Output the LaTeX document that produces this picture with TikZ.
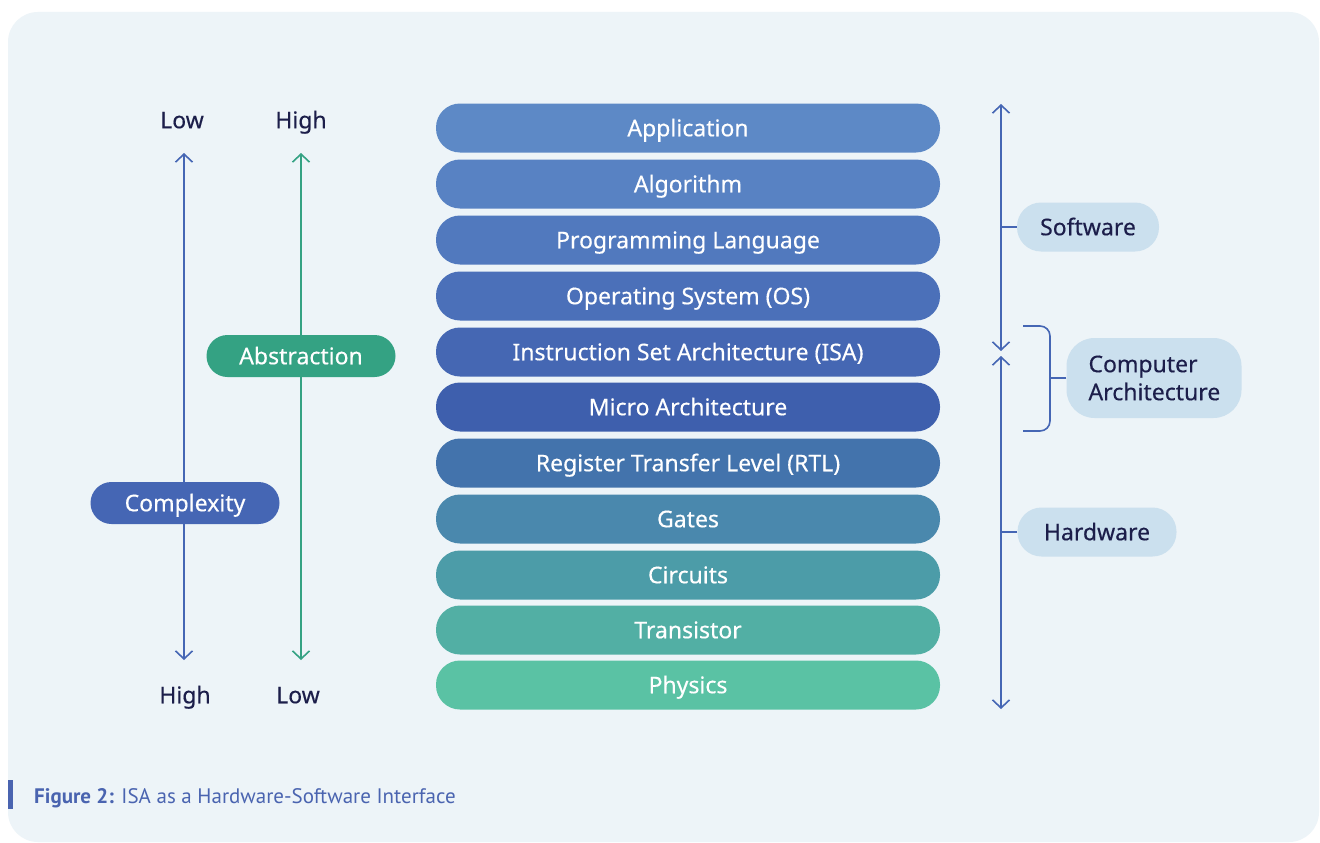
\documentclass[tikz,border=0pt]{standalone}
\usepackage{fontspec}
\setmainfont{Noto Sans}
\newfontfamily\medfont{Noto Sans}[FakeBold=0.35]
\newfontfamily\capfont{PT Sans}
\usepackage{xcolor}
\usetikzlibrary{arrows.meta}

\definecolor{panel}{HTML}{EDF4F8}
\definecolor{ink}{HTML}{1C1E4A}
\definecolor{tag}{HTML}{CBE0EE}
\definecolor{lineblue}{HTML}{4566B4}
\definecolor{linegreen}{HTML}{34A283}
\definecolor{capblue}{HTML}{4A64B0}
\definecolor{cApp}{HTML}{5D89C6}
\definecolor{cAlg}{HTML}{5882C3}
\definecolor{cProg}{HTML}{5179BE}
\definecolor{cOS}{HTML}{4B70B9}
\definecolor{cISA}{HTML}{4567B3}
\definecolor{cMicro}{HTML}{3E5FAD}
\definecolor{cRTL}{HTML}{4373AC}
\definecolor{cGates}{HTML}{4A88AD}
\definecolor{cCirc}{HTML}{4C9CA8}
\definecolor{cTrans}{HTML}{52AFA4}
\definecolor{cPhys}{HTML}{5AC2A4}

\begin{document}
\begin{tikzpicture}[x=1pt, y=-1pt,
	txt/.style={font=\medfont\fontsize{23}{28}\selectfont, text height=16.5pt, text depth=0pt},
	layer/.style={txt, rounded corners=24pt, minimum width=504pt, minimum height=49pt, inner sep=0pt, text=white},
	pill/.style={txt, rounded corners=21pt, minimum width=189pt, minimum height=42pt, inner sep=0pt, text=white},
	tagbox/.style={txt, fill=tag, rounded corners=24pt, minimum height=49pt, inner sep=0pt, text=ink},
	endlabel/.style={txt, text=ink, inner sep=0pt},
	barb/.style={line width=1.6pt, {Straight Barb[length=8pt,width=17pt]}-{Straight Barb[length=8pt,width=17pt]}}
]
\useasboundingbox (0,0) rectangle (1320,843);
\fill[white] (0,0) rectangle (1320,843);
\fill[panel, rounded corners=30pt] (8,12) rectangle (1319,842);

% the stack of layers
\node[layer, fill=cApp,   name=app]   at (688,128) {Application};
\node[layer, fill=cAlg,   name=alg]   at (688,184) {Algorithm};
\node[layer, fill=cProg,  name=prog]  at (688,240) {Programming Language};
\node[layer, fill=cOS,    name=os]    at (688,296) {Operating System (OS)};
\node[layer, fill=cISA,   name=isa]   at (688,352) {Instruction Set Architecture (ISA)};
\node[layer, fill=cMicro, name=micro] at (688,407) {Micro Architecture};
\node[layer, fill=cRTL,   name=rtl]   at (688,463) {Register Transfer Level (RTL)};
\node[layer, fill=cGates, name=gates] at (688,519) {Gates};
\node[layer, fill=cCirc,  name=circ]  at (688,575) {Circuits};
\node[layer, fill=cTrans, name=trans] at (688,630) {Transistor};
\node[layer, fill=cPhys,  name=phys]  at (688,685) {Physics};

% complexity and abstraction scales
\node[endlabel, name=cxLow]  at (182,120) {Low};
\node[endlabel, name=cxHigh] at (185,695) {High};
\node[endlabel, name=abHigh] at (301,120) {High};
\node[endlabel, name=abLow]  at (298,695) {Low};
\coordinate (cxTop) at (184,153);
\coordinate (cxBot) at (184,660);
\coordinate (abTop) at (301,153);
\coordinate (abBot) at (301,660);
\draw[barb, lineblue]  (cxTop) -- (cxBot);
\draw[barb, linegreen] (abTop) -- (abBot);
\node[pill, fill=lineblue,  name=cx] at (185,503) {Complexity};
\node[pill, fill=linegreen, name=ab] at (301,356) {Abstraction};

% software / hardware split
\coordinate (swTop) at (1001,104);
\coordinate (swBot) at (1001,351);
\coordinate (hwTop) at (1001,356);
\coordinate (hwBot) at (1001,709);
\draw[barb, lineblue] (swTop) -- (swBot);
\draw[barb, lineblue] (hwTop) -- (hwBot);
\node[tagbox, minimum width=142pt, name=sw] at (1088,227) {Software};
\node[tagbox, minimum width=159pt, name=hw] at (1097,532) {Hardware};
\draw[lineblue, line width=1.6pt] (sw.west) -- (sw.west -| swTop);
\draw[lineblue, line width=1.6pt] (hw.west) -- (hw.west -| hwTop);

\coordinate (caTop) at (1023,326);
\coordinate (caBot) at (1023,431);
\draw[lineblue, line width=1.6pt, rounded corners=10pt] (caTop) -- ++(27,0) -- ++(0,105) -- (caBot);
\node[tagbox, rounded corners=28pt, minimum height=80pt, text width=131pt, inner xsep=22pt, align=left, name=ca,
	text height=, text depth=] at (1154,378) {Computer\\Architecture};
\draw[lineblue, line width=1.6pt] (ca.west) -- ++(-17,0);

% caption
\fill[capblue] (8,780) rectangle (13,809);
\node[anchor=base west, inner sep=0pt, text=capblue, font=\capfont\fontsize{21}{25}\selectfont, name=cap] at (34,803)
	{\textbf{Figure 2:} ISA as a Hardware-Software Interface};
\end{tikzpicture}
\end{document}
